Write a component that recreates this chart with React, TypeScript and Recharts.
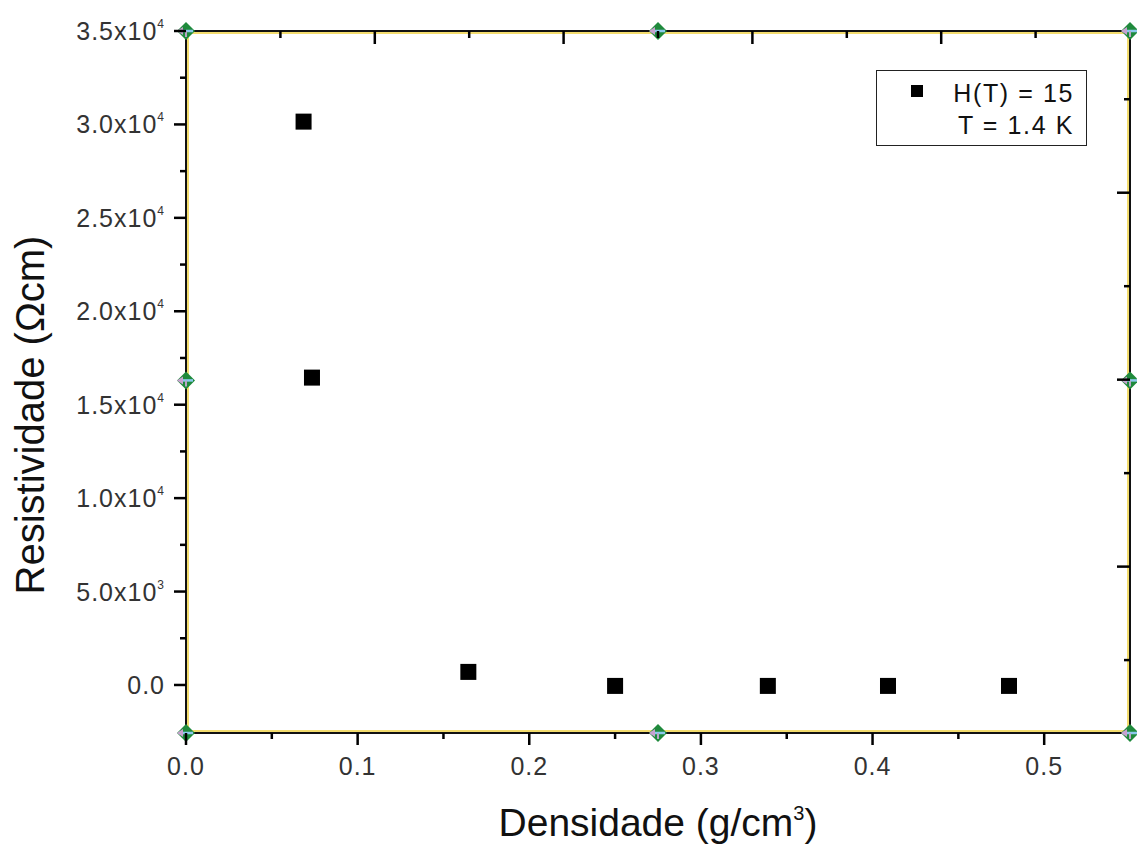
import React from 'react';
import { ScatterChart, Scatter, XAxis, YAxis, ReferenceArea, ReferenceDot, Legend } from 'recharts';

// measured points
const densidade = [0.0685, 0.0734, 0.1645, 0.25, 0.339, 0.409, 0.4795];
const resistividade = [30150, 16450, 700, -50, -50, -50, -50];

// axes
const xDomain = [0, 0.55];
const yDomain = [-2570, 35000];
const xTicks = [0, 0.05, 0.1, 0.15, 0.2, 0.25, 0.3, 0.35, 0.4, 0.45, 0.5];
const yTicks = [0, 2500, 5000, 7500, 10000, 12500, 15000, 17500, 20000, 22500, 25000, 27500, 30000, 32500, 35000];
// top / right frame axes (separate scales in the original)
const topDomain = [0, 10];
const topTicks = [1, 2, 3, 4, 5, 6, 7, 8, 9];
const rightDomain = [-0.78, 6.73];
const rightTicks = [0, 1, 2, 3, 4, 5, 6];

// the little handles on the frame
const handleX = [0, 0.275, 0.55];
const handleY = [35000, 16300, -2570];

const FONT = '"Liberation Sans", Arial, sans-serif';
const data = densidade.map((x, i) => ({ x, y: resistividade[i] }));

const fmtY = (v: number) => {
  if (v === 0) return { m: '0.0', e: '' };
  const e = Math.floor(Math.log10(v));
  return { m: (v / Math.pow(10, e)).toFixed(1) + 'x10', e: String(e) };
};

const LeftTick = (props: any) => {
  const { x, y, payload } = props;
  const major = payload.value % 5000 === 0;
  const { m, e } = fmtY(payload.value);
  return (
    <g>
      <line x1={x} x2={x - (major ? 12 : 6)} y1={y} y2={y} stroke="#000" strokeWidth={2.5} />
      {major && (
        <text x={x - 21} y={y + 9} textAnchor="end" fontFamily={FONT} fontSize={25} fill="#333" letterSpacing={1}>
          <tspan>{m}</tspan>
          {e && <tspan dy={-12} fontSize={12}>{e}</tspan>}
        </text>
      )}
    </g>
  );
};

const BottomTick = (props: any) => {
  const { x, y, payload } = props;
  const major = Math.round(payload.value * 100) % 10 === 0;
  return (
    <g>
      <line x1={x} x2={x} y1={y} y2={y + (major ? 12 : 6)} stroke="#000" strokeWidth={2.5} />
      {major && (
        <text x={x} y={y + 42} textAnchor="middle" fontFamily={FONT} fontSize={25} fill="#333" letterSpacing={1}>
          {payload.value.toFixed(1)}
        </text>
      )}
    </g>
  );
};

const TopTick = (props: any) => {
  const { x, y, payload } = props;
  const major = payload.value % 2 === 0;
  return <line x1={x} x2={x} y1={y} y2={y + (major ? 13 : 7)} stroke="#000" strokeWidth={2.5} />;
};

const RightTick = (props: any) => {
  const { x, y, payload } = props;
  const major = payload.value % 2 === 1;
  return <line x1={x} x2={x - (major ? 13 : 6)} y1={y} y2={y} stroke="#000" strokeWidth={2.5} />;
};

const Square = (props: any) => {
  const { cx, cy } = props;
  return <rect x={cx - 8} y={cy - 8} width={16} height={16} fill="#000" />;
};

const Handle = (props: any) => {
  const { cx, cy } = props;
  return (
    <g>
      <polygon points={`${cx},${cy - 9} ${cx + 9},${cy} ${cx},${cy + 9} ${cx - 9},${cy}`} fill="#1f8a3c" />
      <line x1={cx - 7} x2={cx + 7} y1={cy} y2={cy} stroke="#8cc8ec" strokeWidth={2.5} />
      <polygon points={`${cx - 9},${cy} ${cx - 3},${cy - 4} ${cx - 3},${cy + 4}`} fill="#c8a2cf" />
      <line x1={cx} x2={cx} y1={cy} y2={cy + 6} stroke="#b9a6c8" strokeWidth={2} />
    </g>
  );
};

const Frame = (props: any) => {
  const { x, y, width, height } = props;
  return (
    <g>
      <rect x={x + 2} y={y + 2} width={width - 4} height={height - 4} fill="none" stroke="#f3dc6e" strokeWidth={2} />
      <rect x={x} y={y} width={width} height={height} fill="none" stroke="#111" strokeWidth={2} />
    </g>
  );
};

const LegendBox = () => (
  <div
    style={{
      position: 'relative',
      width: 211,
      height: 76,
      boxSizing: 'border-box',
      border: '1.5px solid #222',
      background: '#fff',
      fontFamily: FONT,
      fontSize: 25,
      color: '#111',
      letterSpacing: 1.6,
    }}
  >
    <div style={{ position: 'absolute', left: 34, top: 14, width: 12, height: 12, background: '#000' }} />
    <div style={{ position: 'absolute', right: 12, top: 8, lineHeight: '28px' }}>H(T) = 15</div>
    <div style={{ position: 'absolute', right: 12, top: 40, lineHeight: '28px' }}>T = 1.4 K</div>
  </div>
);

export default function App() {
  return (
    <div style={{ position: 'absolute', left: 0, top: 0 }}>
      <ScatterChart width={1137} height={851} margin={{ top: 0, right: 0, bottom: 0, left: 0 }}>
        <XAxis
          xAxisId="bottom"
          dataKey="x"
          type="number"
          domain={xDomain}
          ticks={xTicks}
          interval={0}
          height={118}
          axisLine={false}
          tickLine={false}
          tickSize={0}
          tickMargin={0}
          tick={<BottomTick />}
          label={{
            content: (p: any) => {
              const vb = p.viewBox;
              return (
                <text x={vb.x + vb.width / 2} y={vb.y + 103} textAnchor="middle" fontFamily={FONT} fontSize={39} fill="#111">
                  Densidade (g/cm<tspan dy={-16} fontSize={20}>3</tspan><tspan dy={16}>)</tspan>
                </text>
              );
            },
          }}
        />
        <XAxis
          xAxisId="top"
          orientation="top"
          dataKey="x"
          type="number"
          domain={topDomain}
          allowDataOverflow
          ticks={topTicks}
          interval={0}
          height={31}
          axisLine={false}
          tickLine={false}
          tickSize={0}
          tickMargin={0}
          tick={<TopTick />}
        />
        <YAxis
          yAxisId="left"
          dataKey="y"
          type="number"
          domain={yDomain}
          ticks={yTicks}
          interval={0}
          width={186}
          axisLine={false}
          tickLine={false}
          tickSize={0}
          tickMargin={0}
          tick={<LeftTick />}
          label={{
            content: (p: any) => {
              const vb = p.viewBox;
              const cx = vb.x + 44;
              const cy = vb.y + vb.height / 2 + 33;
              return (
                <text x={cx} y={cy} transform={`rotate(-90 ${cx} ${cy})`} textAnchor="middle" fontFamily={FONT} fontSize={40} fill="#111">
                  Resistividade (Ωcm)
                </text>
              );
            },
          }}
        />
        <YAxis
          yAxisId="right"
          orientation="right"
          dataKey="y"
          type="number"
          domain={rightDomain}
          allowDataOverflow
          ticks={rightTicks}
          interval={0}
          width={7}
          axisLine={false}
          tickLine={false}
          tickSize={0}
          tickMargin={0}
          tick={<RightTick />}
        />
        <ReferenceArea
          xAxisId="bottom"
          yAxisId="left"
          x1={xDomain[0]}
          x2={xDomain[1]}
          y1={yDomain[0]}
          y2={yDomain[1]}
          shape={<Frame />}
        />
        <Scatter
          xAxisId="bottom"
          yAxisId="left"
          name="H(T) = 15"
          data={data}
          shape={<Square />}
          isAnimationActive={false}
        />
        {/* empty series so the frame axes get drawn */}
        <Scatter xAxisId="top" yAxisId="right" data={[]} legendType="none" isAnimationActive={false} />
        {handleX.map((hx) =>
          handleY.map((hy, j) =>
            hx === handleX[1] && j === 1 ? null : (
              <ReferenceDot
                key={`${hx}-${hy}`}
                xAxisId="bottom"
                yAxisId="left"
                x={hx}
                y={hy}
                shape={<Handle />}
                ifOverflow="visible"
              />
            )
          )
        )}
        <Legend
          layout="vertical"
          align="center"
          verticalAlign="middle"
          content={<LegendBox />}
          wrapperStyle={{ left: 876, top: 70, width: 211, height: 76 }}
        />
      </ScatterChart>
    </div>
  );
}
